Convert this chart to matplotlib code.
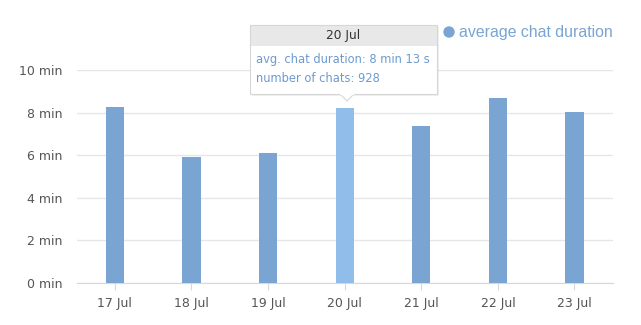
import matplotlib.pyplot as plt
import matplotlib.patches as patches

# Chart data
days = ['17 Jul', '18 Jul', '19 Jul', '20 Jul', '21 Jul', '22 Jul', '23 Jul']
avg_minutes = [8.26, 5.92, 6.10, 8.22, 7.37, 8.69, 8.03]
yticks = [0, 2, 4, 6, 8, 10]
hover_idx = 3
hover_lines = ['avg. chat duration: 8 min 13 s', 'number of chats: 928']

bar_color = '#7aa5d3'
hover_color = '#91bdea'
text_color = '#555555'
grid_color = '#e6e6e6'

fig = plt.figure(figsize=(6.41, 3.25), dpi=100)
ax = fig.add_axes([0.1195, 0.129, 0.8365, 0.656])

cols = [hover_color if i == hover_idx else bar_color for i in range(len(days))]
ax.bar(range(len(days)), avg_minutes, width=0.24, color=cols, zorder=3)

ax.set_xlim(-0.5, len(days) - 0.5)
ax.set_ylim(0, 10)
ax.set_yticks(yticks)
ax.set_yticklabels(['%d min' % t for t in yticks])
ax.set_xticks(range(len(days)))
ax.set_xticklabels(days)
ax.grid(axis='y', color=grid_color, linewidth=1, zorder=0)
for s in ['top', 'right', 'left']:
	ax.spines[s].set_visible(False)
ax.spines['bottom'].set_color('#d8d8d8')
ax.tick_params(axis='y', length=0, pad=10, labelsize=9, labelcolor=text_color)
ax.tick_params(axis='x', length=5, color='#d8d8d8', pad=5, labelsize=9, labelcolor=text_color)

# overlay in pixel coords for legend + tooltip
ov = fig.add_axes([0, 0, 1, 1], zorder=10)
ov.set_xlim(0, 641)
ov.set_ylim(325, 0)
ov.axis('off')

ov.add_patch(patches.Circle((449, 32), 5, color=bar_color))
ov.text(459, 32, 'average chat duration', color=bar_color, fontsize=11.4,
	family='Liberation Sans', va='center', ha='left')

# tooltip box with header and pointer
x0, x1, y0, y1 = 250, 437, 25, 94
tip_x = 347
ov.add_patch(patches.Rectangle((x0 + 1.5, y0 + 1.5), x1 - x0, y1 - y0, color='#000000', alpha=0.06, lw=0))
ov.add_patch(patches.Rectangle((x0, y0), x1 - x0, y1 - y0, facecolor='white', edgecolor='#d6d6d6', lw=0.8))
ov.add_patch(patches.Rectangle((x0 + 0.5, y0 + 0.5), x1 - x0 - 1, 20, facecolor='#e8e8e8', lw=0))
ov.add_patch(patches.Polygon([(tip_x - 7, y1), (tip_x + 7, y1), (tip_x, y1 + 7)], closed=True,
	facecolor='white', edgecolor='#d6d6d6', lw=0.8))
ov.plot([tip_x - 6.3, tip_x + 6.3], [y1, y1], color='white', lw=1.5)
ov.text((x0 + x1) / 2, y0 + 11, days[hover_idx], ha='center', va='center', fontsize=8.8, color='#333333')
for i, line in enumerate(hover_lines):
	ov.text(x0 + 6, y0 + 34 + i * 19, line, ha='left', va='center', fontsize=8.3, color='#6d9bd0')

fig.savefig('out.png', dpi=100)
